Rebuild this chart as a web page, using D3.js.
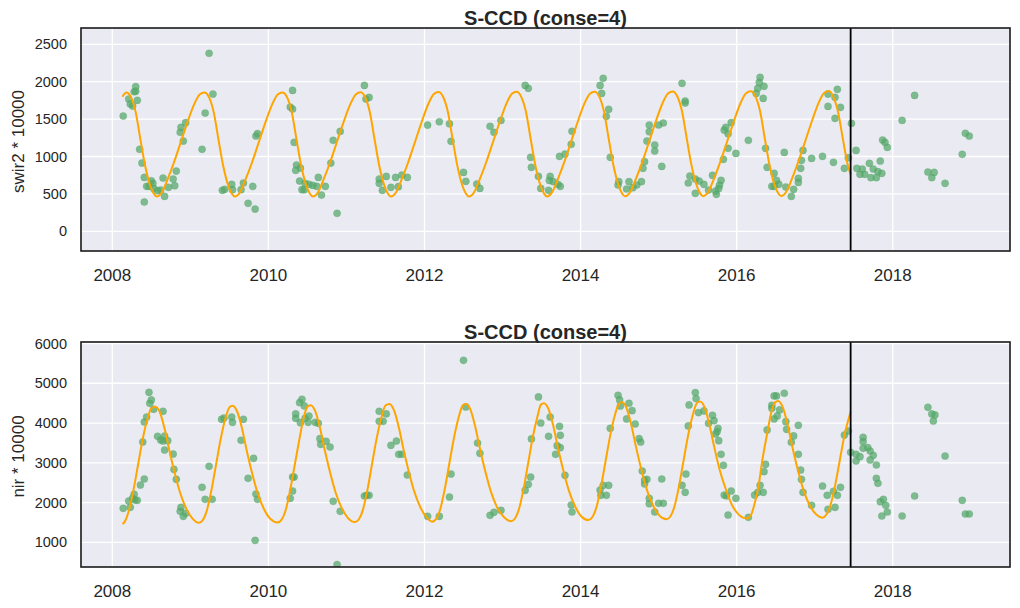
<!DOCTYPE html>
<html><head><meta charset="utf-8">
<script src="https://cdn.jsdelivr.net/npm/d3@7"></script>
<style>
body{margin:0;background:#fff;}
text{font-family:"Liberation Sans",Arial,sans-serif;fill:#262626;}
</style>
</head><body>
<svg id="chart" width="1020" height="608"></svg>
<script>
const xTickYears = [2008, 2010, 2012, 2014, 2016, 2018];
const swirTicks = [0, 500, 1000, 1500, 2000, 2500];
const nirTicks = [1000, 2000, 3000, 4000, 5000, 6000];
const breakDate = 2017.46;
const chartTitle = "S-CCD (conse=4)";

// observed swir2 * 10000 : [decimal year, value]
const swirObs = [
[2008.14,1541],[2008.21,1768],[2008.23,1701],[2008.26,1674],[2008.28,1866],[2008.30,1933],[2008.30,1871],[2008.32,1751],[2008.35,1096],[2008.38,913],[2008.41,721],[2008.41,392],[2008.44,601],[2008.47,601],[2008.50,676],[2008.52,641],[2008.53,574],[2008.58,543],[2008.62,552],[2008.65,712],[2008.67,467],[2008.72,588],[2008.78,699],[2008.80,610],[2008.82,806],[2008.87,1323],[2008.88,1390],[2008.91,1207],[2008.94,1453],
[2009.15,1096],[2009.19,1581],[2009.24,2379],[2009.29,1835],[2009.41,548],[2009.44,561],[2009.53,628],[2009.54,557],[2009.65,557],[2009.68,646],[2009.74,374],[2009.80,601],[2009.83,298],[2009.84,1274],[2009.86,1305],
[2010.31,1884],[2010.28,1661],[2010.31,1634],[2010.33,1189],[2010.36,886],[2010.35,815],[2010.41,846],[2010.40,672],[2010.43,557],[2010.46,557],[2010.47,641],[2010.52,628],[2010.57,614],[2010.62,601],[2010.64,721],[2010.68,485],[2010.73,601],[2010.80,913],[2010.83,1216],[2010.88,240],[2010.92,1336],
[2011.23,1951],[2011.25,1768],[2011.29,1790],[2011.42,699],[2011.42,641],[2011.46,548],[2011.51,734],[2011.57,588],[2011.63,721],[2011.665,597],[2011.71,752],[2011.78,721],
[2012.04,1420],[2012.19,1465],[2012.32,1438],[2012.34,1203],[2012.50,788],[2012.53,668],[2012.67,632],[2012.71,574],[2012.84,1403],[2012.89,1323],[2012.98,1483],
[2013.29,1951],[2013.33,1911],[2013.36,989],[2013.37,855],[2013.46,735],[2013.49,574],[2013.59,548],[2013.61,735],[2013.60,681],[2013.65,664],[2013.71,628],[2013.74,601],[2013.73,1002],[2013.80,1033],[2013.88,1163],[2013.89,1337],
[2014.25,1951],[2014.29,2045],[2014.27,1844],[2014.36,1631],[2014.33,1537],[2014.38,989],[2014.49,664],[2014.48,619],[2014.59,566],[2014.62,664],[2014.67,583],[2014.72,619],[2014.78,664],[2014.80,842],[2014.82,931],[2014.85,1207],[2014.88,1421],[2014.88,1332],[2014.95,1154],[2014.95,1074],[2015.00,1421],[2015.06,1448],[2015.04,868],
[2015.30,1978],[2015.34,1742],[2015.34,1715],[2015.40,739],[2015.38,646],[2015.47,508],[2015.47,699],[2015.52,672],[2015.58,628],[2015.64,552],[2015.69,748],[2015.73,539],[2015.74,494],[2015.77,574],[2015.78,619],[2015.80,681],[2015.83,962],[2015.84,1354],[2015.86,1390],[2015.89,1305],[2015.93,1453],[2015.89,1109],[2015.99,1042],
[2016.15,1216],[2016.25,1844],[2016.27,1911],[2016.29,1991],[2016.30,2058],[2016.35,1938],[2016.34,1777],[2016.37,1109],[2016.39,855],[2016.48,775],[2016.51,681],[2016.54,628],[2016.45,601],[2016.48,601],[2016.61,1055],[2016.63,592],[2016.70,467],[2016.73,561],[2016.79,708],[2016.79,654],[2016.82,842],[2016.83,949],[2016.85,1082],[2016.96,975],
[2017.10,1002],[2017.17,1835],[2017.17,1670],[2017.26,1791],[2017.29,1898],[2017.26,1510],[2017.33,1657],[2017.24,922],[2017.38,842],[2017.43,984],[2017.47,1443],[2017.53,1082],[2017.54,842],[2017.58,762],[2017.61,833],[2017.64,762],[2017.70,909],[2017.72,717],[2017.75,833],[2017.79,717],[2017.81,797],[2017.84,940],[2017.86,775],[2017.87,1220],[2017.90,1189],[2017.93,1122],
[2018.12,1483],[2018.28,1817],[2018.45,793],[2018.50,717],[2018.53,788],[2018.67,641],[2018.89,1029],[2018.93,1310],[2018.98,1274]
];

// fitted swir2 model curve : [decimal year, value]
const swirFit = [
[2008.13,1800],[2008.18,1855],[2008.24,1790],[2008.30,1590],[2008.36,1230],[2008.42,880],[2008.48,630],[2008.53,505],[2008.57,465],[2008.64,530],[2008.71,700],[2008.79,920],[2008.88,1200],[2008.97,1480],[2009.05,1700],[2009.12,1830],
[2009.18,1855],[2009.24,1790],[2009.30,1590],[2009.36,1230],[2009.42,880],[2009.48,630],[2009.53,505],[2009.57,465],[2009.64,530],[2009.71,700],[2009.79,920],[2009.88,1200],[2009.97,1480],[2010.05,1700],[2010.12,1830],
[2010.18,1855],[2010.24,1790],[2010.30,1590],[2010.36,1230],[2010.42,880],[2010.48,630],[2010.53,505],[2010.57,465],[2010.64,530],[2010.71,700],[2010.79,920],[2010.88,1200],[2010.97,1480],[2011.05,1700],[2011.12,1830],
[2011.18,1858],[2011.24,1792],[2011.30,1592],[2011.36,1232],[2011.42,880],[2011.48,630],[2011.53,505],[2011.57,465],[2011.64,530],[2011.71,700],[2011.79,920],[2011.88,1200],[2011.97,1480],[2012.05,1705],[2012.12,1835],
[2012.18,1862],[2012.24,1795],[2012.30,1595],[2012.36,1235],[2012.42,882],[2012.48,630],[2012.53,505],[2012.57,465],[2012.64,530],[2012.71,700],[2012.79,920],[2012.88,1200],[2012.97,1482],[2013.05,1708],[2013.12,1838],
[2013.18,1865],[2013.24,1798],[2013.30,1598],[2013.36,1238],[2013.42,884],[2013.48,632],[2013.53,507],[2013.57,466],[2013.64,531],[2013.71,702],[2013.79,922],[2013.88,1202],[2013.97,1485],[2014.05,1710],[2014.12,1840],
[2014.18,1867],[2014.24,1800],[2014.30,1600],[2014.36,1240],[2014.42,886],[2014.48,634],[2014.53,509],[2014.57,468],[2014.64,533],[2014.71,704],[2014.79,925],[2014.88,1205],[2014.97,1488],[2015.05,1712],[2015.12,1842],
[2015.18,1869],[2015.24,1802],[2015.30,1602],[2015.36,1242],[2015.42,888],[2015.48,636],[2015.53,511],[2015.57,470],[2015.64,535],[2015.71,706],[2015.79,928],[2015.88,1208],[2015.97,1490],[2016.05,1715],[2016.12,1845],
[2016.18,1871],[2016.24,1804],[2016.30,1604],[2016.36,1244],[2016.42,890],[2016.48,638],[2016.53,513],[2016.57,472],[2016.64,537],[2016.71,708],[2016.79,930],[2016.88,1210],[2016.97,1492],[2017.05,1718],[2017.12,1848],
[2017.18,1875],[2017.24,1795],[2017.30,1590],[2017.36,1240],[2017.42,900],[2017.46,760]
];

// observed nir * 10000 : [decimal year, value]
const nirObs = [
[2008.14,1855],[2008.21,2039],[2008.23,1880],[2008.26,2106],[2008.28,2207],[2008.29,2064],[2008.32,2056],[2008.36,2441],[2008.41,2592],[2008.39,3523],[2008.41,4026],[2008.44,4152],[2008.47,4773],[2008.48,4496],[2008.50,4580],[2008.53,4345],[2008.58,3666],[2008.62,3573],[2008.65,4295],[2008.67,3674],[2008.71,3557],[2008.65,3548],[2008.67,3322],[2008.78,3221],[2008.79,2835],[2008.82,2584],[2008.88,1880],[2008.87,1779],[2008.91,1653],[2008.94,1729],
[2009.15,2383],[2009.19,2081],[2009.24,2911],[2009.28,2081],[2009.40,4094],[2009.43,4127],[2009.53,4152],[2009.54,4018],[2009.68,4094],[2009.65,3565],[2009.81,3112],[2009.74,2609],[2009.84,2215],[2009.86,2081],[2009.83,1049],
[2010.28,2106],[2010.31,2291],[2010.31,2643],[2010.33,2643],[2010.35,4228],[2010.35,4119],[2010.40,4513],[2010.43,4597],[2010.46,4429],[2010.41,4010],[2010.47,4119],[2010.52,4177],[2010.51,4018],[2010.60,4018],[2010.64,3993],[2010.66,3607],[2010.67,3464],[2010.74,3540],[2010.79,3397],[2010.83,2031],[2010.92,1779],[2010.88,440],
[2011.23,2165],[2011.26,2182],[2011.29,2182],[2011.42,4295],[2011.42,4043],[2011.47,4043],[2011.51,4228],[2011.57,3439],[2011.64,3548],[2011.67,3213],[2011.71,3213],[2011.78,2693],
[2012.04,1653],[2012.19,1653],[2012.32,2140],[2012.34,2718],[2012.50,5577],[2012.53,4404],[2012.68,3498],[2012.71,3238],[2012.84,1678],[2012.89,1754],[2012.98,1804],
[2013.29,2307],[2013.33,2458],[2013.36,2643],[2013.37,3599],[2013.46,4656],[2013.49,4001],[2013.59,3666],[2013.61,4152],[2013.73,3917],[2013.74,3691],[2013.70,3430],[2013.74,3380],[2013.68,3213],[2013.80,2685],[2013.88,1938],[2013.89,1762],
[2014.25,2316],[2014.26,2182],[2014.29,2433],[2014.36,2433],[2014.33,2182],[2014.38,3867],[2014.48,4698],[2014.50,4581],[2014.51,4430],[2014.59,4102],[2014.62,4497],[2014.66,4312],[2014.70,3976],[2014.75,3607],[2014.77,3523],[2014.79,2793],[2014.82,2567],[2014.82,2467],[2014.85,2584],[2014.88,2106],[2014.88,1972],[2014.95,1762],[2015.00,1980],[2015.06,1980],[2015.04,2592],
[2015.30,2433],[2015.34,2257],[2015.35,2718],[2015.38,3926],[2015.39,4455],[2015.47,4765],[2015.48,4614],[2015.51,4262],[2015.58,4304],[2015.64,3994],[2015.69,4195],[2015.71,4061],[2015.75,3784],[2015.76,3868],[2015.77,3557],[2015.73,3725],[2015.80,3213],[2015.83,2937],[2015.84,2190],[2015.87,2165],[2015.93,2291],[2015.89,1687],[2015.99,2106],
[2016.15,1628],[2016.23,2190],[2016.27,2257],[2016.30,2433],[2016.34,2257],[2016.35,2777],[2016.37,2962],[2016.39,3826],[2016.45,4446],[2016.45,4371],[2016.48,4681],[2016.51,4681],[2016.48,4102],[2016.52,4178],[2016.55,4329],[2016.61,4749],[2016.63,4035],[2016.64,3842],[2016.70,3515],[2016.73,3675],[2016.79,3943],[2016.79,3213],[2016.82,2819],[2016.83,2584],[2016.85,2257],[2016.96,1930],
[2017.10,2416],[2017.16,2182],[2017.17,1829],[2017.24,2282],[2017.26,1880],[2017.29,2182],[2017.33,2383],[2017.38,3699],[2017.43,3800],[2017.46,3263],[2017.53,3045],[2017.53,3213],[2017.58,3154],[2017.62,3641],[2017.62,3532],[2017.62,3364],[2017.68,3380],[2017.71,3297],[2017.71,3071],[2017.75,3188],[2017.79,2945],[2017.79,2609],[2017.81,2484],[2017.84,2022],[2017.88,2081],[2017.91,1930],[2017.93,1762],[2017.86,1662],
[2018.12,1662],[2018.28,2165],[2018.45,4396],[2018.50,4228],[2018.54,4203],[2018.52,4052],[2018.67,3171],[2018.89,2056],[2018.93,1712],[2018.98,1712]
];

// fitted nir model curve : [decimal year, value]
const nirFit = [
[2008.13,1460],[2008.16,1520],[2008.21,1780],[2008.27,2300],[2008.33,2950],[2008.39,3600],[2008.45,4100],[2008.50,4370],[2008.55,4410],
[2008.61,4270],[2008.67,3860],[2008.73,3320],[2008.80,2740],[2008.87,2240],[2008.95,1840],[2009.03,1590],[2009.11,1493],
[2009.16,1560],[2009.21,1790],[2009.27,2310],[2009.33,2960],[2009.39,3610],[2009.45,4120],[2009.50,4395],[2009.54,4437],
[2009.60,4290],[2009.66,3880],[2009.72,3330],[2009.79,2750],[2009.86,2250],[2009.94,1850],[2010.02,1600],[2010.12,1500],
[2010.17,1570],[2010.22,1800],[2010.28,2320],[2010.34,2970],[2010.40,3620],[2010.45,4120],[2010.50,4410],[2010.54,4450],
[2010.60,4300],[2010.66,3890],[2010.72,3340],[2010.79,2760],[2010.86,2260],[2010.94,1860],[2011.02,1610],[2011.11,1510],
[2011.16,1580],[2011.21,1810],[2011.27,2330],[2011.33,2990],[2011.39,3640],[2011.45,4150],[2011.50,4440],[2011.55,4480],
[2011.61,4320],[2011.67,3900],[2011.73,3350],[2011.80,2770],[2011.87,2270],[2011.95,1870],[2012.03,1620],[2012.10,1518],
[2012.15,1590],[2012.20,1820],[2012.26,2340],[2012.32,3000],[2012.38,3650],[2012.44,4160],[2012.49,4440],[2012.53,4480],
[2012.59,4330],[2012.65,3910],[2012.71,3360],[2012.78,2780],[2012.85,2280],[2012.93,1880],[2013.02,1630],[2013.11,1530],
[2013.16,1600],[2013.21,1830],[2013.27,2350],[2013.33,3010],[2013.39,3670],[2013.45,4180],[2013.49,4460],[2013.53,4500],
[2013.59,4350],[2013.65,3930],[2013.71,3380],[2013.78,2800],[2013.85,2300],[2013.93,1900],[2014.01,1650],[2014.10,1560],
[2014.15,1630],[2014.20,1860],[2014.26,2380],[2014.32,3040],[2014.38,3690],[2014.44,4200],[2014.49,4480],[2014.53,4520],
[2014.59,4370],[2014.65,3950],[2014.71,3400],[2014.78,2820],[2014.85,2320],[2014.93,1920],[2015.01,1670],[2015.10,1580],
[2015.15,1650],[2015.20,1880],[2015.26,2400],[2015.32,3060],[2015.38,3710],[2015.44,4220],[2015.49,4500],[2015.53,4540],
[2015.59,4390],[2015.65,3970],[2015.71,3420],[2015.78,2840],[2015.86,2340],[2015.94,1940],[2016.03,1690],[2016.13,1600],
[2016.18,1670],[2016.22,1900],[2016.28,2420],[2016.33,3080],[2016.39,3730],[2016.44,4240],[2016.49,4515],[2016.53,4555],
[2016.59,4400],[2016.65,3980],[2016.71,3430],[2016.78,2850],[2016.85,2350],[2016.93,1950],[2017.02,1700],[2017.10,1620],
[2017.15,1700],[2017.20,1920],[2017.26,2420],[2017.32,3050],[2017.38,3680],[2017.46,4285]
];

const panels = [
  { ylabel: "swir2 * 10000", top: 28, bottom: 251, domain: [-263, 2718], ticks: swirTicks, obs: swirObs, fit: swirFit },
  { ylabel: "nir * 10000",   top: 342, bottom: 567, domain: [379, 6038],  ticks: nirTicks,  obs: nirObs,  fit: nirFit }
];

const svg = d3.select("#chart");
const left = 81, right = 1010;
const x = d3.scaleLinear().domain([2007.599, 2019.502]).range([left, right]);

panels.forEach((p, i) => {
  const y = d3.scaleLinear().domain(p.domain).range([p.bottom, p.top]);
  const g = svg.append("g");
  const clipId = "clip" + i;
  svg.append("clipPath").attr("id", clipId)
    .append("rect").attr("x", left).attr("y", p.top).attr("width", right - left).attr("height", p.bottom - p.top);

  g.append("rect").attr("x", left).attr("y", p.top).attr("width", right - left).attr("height", p.bottom - p.top)
    .attr("fill", "#eaeaf2");

  // gridlines
  g.append("g").selectAll("line").data(xTickYears).join("line")
    .attr("x1", d => x(d)).attr("x2", d => x(d)).attr("y1", p.top).attr("y2", p.bottom)
    .attr("stroke", "#fff").attr("stroke-width", 1.3);
  g.append("g").selectAll("line").data(p.ticks).join("line")
    .attr("x1", left).attr("x2", right).attr("y1", d => y(d)).attr("y2", d => y(d))
    .attr("stroke", "#fff").attr("stroke-width", 1.3);

  const plot = g.append("g").attr("clip-path", `url(#${clipId})`);
  plot.append("g").selectAll("circle").data(p.obs).join("circle")
    .attr("cx", d => x(d[0])).attr("cy", d => y(d[1])).attr("r", 3.6)
    .attr("fill", "#55a868").attr("fill-opacity", 0.72)
    .attr("stroke", "#55a868").attr("stroke-opacity", 0.35).attr("stroke-width", 0.8);

  const line = d3.line().x(d => x(d[0])).y(d => y(d[1])).curve(d3.curveMonotoneX);
  plot.append("path").datum(p.fit).attr("d", line)
    .attr("fill", "none").attr("stroke", "#ffa500").attr("stroke-width", 2);

  plot.append("line").attr("x1", x(breakDate)).attr("x2", x(breakDate)).attr("y1", p.top).attr("y2", p.bottom)
    .attr("stroke", "#000").attr("stroke-width", 1.8);

  // frame
  g.append("rect").attr("x", left).attr("y", p.top).attr("width", right - left).attr("height", p.bottom - p.top)
    .attr("fill", "none").attr("stroke", "#1a1a1a").attr("stroke-width", 1.6);

  // axes tick labels
  g.append("g").selectAll("text").data(xTickYears).join("text")
    .attr("x", d => x(d)).attr("y", p.bottom + 30).attr("text-anchor", "middle")
    .attr("font-size", 17).text(d => d);
  g.append("g").selectAll("text").data(p.ticks).join("text")
    .attr("x", 67).attr("y", d => y(d) + 5).attr("text-anchor", "end")
    .attr("font-size", 14.5).text(d => d);

  g.append("text").attr("transform", `translate(24,${(p.top + p.bottom) / 2 + 2}) rotate(-90)`)
    .attr("text-anchor", "middle").attr("font-size", 17).text(p.ylabel);

  g.append("text").attr("x", (left + right) / 2).attr("y", p.top - 3)
    .attr("text-anchor", "middle").attr("font-size", 20).attr("font-weight", "bold").text(chartTitle);
});
</script>
</body></html>
